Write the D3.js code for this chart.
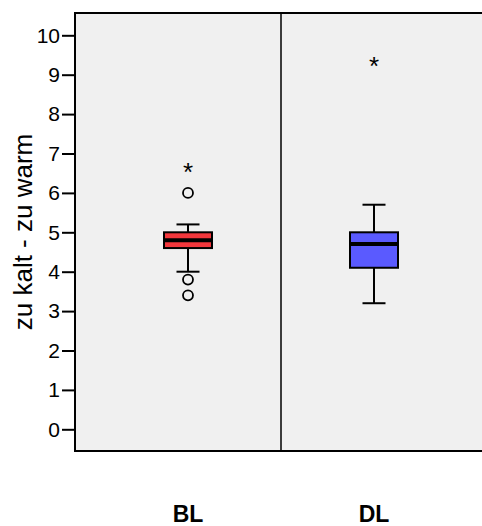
<!DOCTYPE html>
<html>
<head>
<meta charset="utf-8">
<script src="https://cdn.jsdelivr.net/npm/d3@7/dist/d3.min.js"></script>
<style>
  body { margin: 0; background: #fff; }
  svg { display: block; font-family: Arial, "Liberation Sans", sans-serif; }
</style>
</head>
<body>
<svg id="chart" width="482" height="526"></svg>
<script>
// groups and box statistics
const groups = ['BL', 'DL'];
const colors = ['#f2373c', '#5a5aff'];
const q1 = [4.6, 4.1];
const median = [4.8, 4.7];
const q3 = [5.0, 5.0];
const whiskLo = [4.0, 3.2];
const whiskHi = [5.2, 5.7];
// outliers (circles) and extremes (stars)
const outliers = [{g: 'BL', v: 6.0}, {g: 'BL', v: 3.8}, {g: 'BL', v: 3.4}];
const extremes = [{g: 'BL', v: 6.6}, {g: 'DL', v: 9.3}];
const yTicks = [0, 1, 2, 3, 4, 5, 6, 7, 8, 9, 10];

const svg = d3.select('#chart');
const mLeft = 75, mTop = 13, mBottom = 451, mRight = 492;

const y = d3.scaleLinear().domain([0, 10]).range([429.3, 35.3]);
const x = d3.scaleBand().domain(groups).range([95, 467]);

// plot background + frame
svg.append('rect')
  .attr('x', mLeft).attr('y', mTop)
  .attr('width', mRight - mLeft).attr('height', mBottom - mTop)
  .attr('fill', '#f0f0f0').attr('stroke', '#000').attr('stroke-width', 2);

// divider between groups
svg.append('line')
  .attr('x1', x('DL')).attr('x2', x('DL'))
  .attr('y1', mTop).attr('y2', mBottom)
  .attr('stroke', '#000').attr('stroke-width', 1.5);

// y axis
const yAxis = svg.append('g')
  .attr('transform', `translate(${mLeft},0)`)
  .call(d3.axisLeft(y).tickValues(yTicks).tickSize(13).tickPadding(2).tickFormat(d3.format('d')));
yAxis.select('.domain').remove();
yAxis.selectAll('.tick line').attr('stroke', '#000').attr('stroke-width', 2);
yAxis.selectAll('.tick text')
  .attr('font-size', 21).attr('fill', '#000')
  .style('font-family', 'Arial, "Liberation Sans", sans-serif');

svg.append('text')
  .attr('transform', 'translate(32,232) rotate(-90)')
  .attr('text-anchor', 'middle')
  .attr('font-size', 26)
  .text('zu kalt - zu warm');

// x labels
svg.selectAll('.xlab').data(groups).join('text')
  .attr('class', 'xlab')
  .attr('x', d => x(d) + x.bandwidth() / 2)
  .attr('y', 522)
  .attr('text-anchor', 'middle')
  .attr('font-size', 23).attr('font-weight', 'bold')
  .text(d => d);

// boxes
const boxW = 48, capW = 23;
const g = svg.append('g');
groups.forEach((name, i) => {
  const cx = x(name) + x.bandwidth() / 2;
  // whiskers
  g.append('line').attr('x1', cx).attr('x2', cx)
    .attr('y1', y(whiskHi[i])).attr('y2', y(q3[i]))
    .attr('stroke', '#000').attr('stroke-width', 2);
  g.append('line').attr('x1', cx).attr('x2', cx)
    .attr('y1', y(q1[i])).attr('y2', y(whiskLo[i]))
    .attr('stroke', '#000').attr('stroke-width', 2);
  [whiskHi[i], whiskLo[i]].forEach(v => {
    g.append('line').attr('x1', cx - capW / 2).attr('x2', cx + capW / 2)
      .attr('y1', y(v)).attr('y2', y(v))
      .attr('stroke', '#000').attr('stroke-width', 2);
  });
  g.append('rect')
    .attr('x', cx - boxW / 2).attr('width', boxW)
    .attr('y', y(q3[i])).attr('height', y(q1[i]) - y(q3[i]))
    .attr('fill', colors[i]).attr('stroke', '#000').attr('stroke-width', 2);
  g.append('line')
    .attr('x1', cx - boxW / 2).attr('x2', cx + boxW / 2)
    .attr('y1', y(median[i])).attr('y2', y(median[i]))
    .attr('stroke', '#000').attr('stroke-width', 4);
});

// outliers
g.selectAll('circle.out').data(outliers).join('circle')
  .attr('class', 'out')
  .attr('cx', d => x(d.g) + x.bandwidth() / 2)
  .attr('cy', d => y(d.v))
  .attr('r', 5)
  .attr('fill', 'none').attr('stroke', '#000').attr('stroke-width', 1.8);

// extremes
g.selectAll('text.ext').data(extremes).join('text')
  .attr('class', 'ext')
  .attr('x', d => x(d.g) + x.bandwidth() / 2)
  .attr('y', d => y(d.v) + 12)
  .attr('text-anchor', 'middle')
  .attr('font-size', 26)
  .text('*');
</script>
</body>
</html>
